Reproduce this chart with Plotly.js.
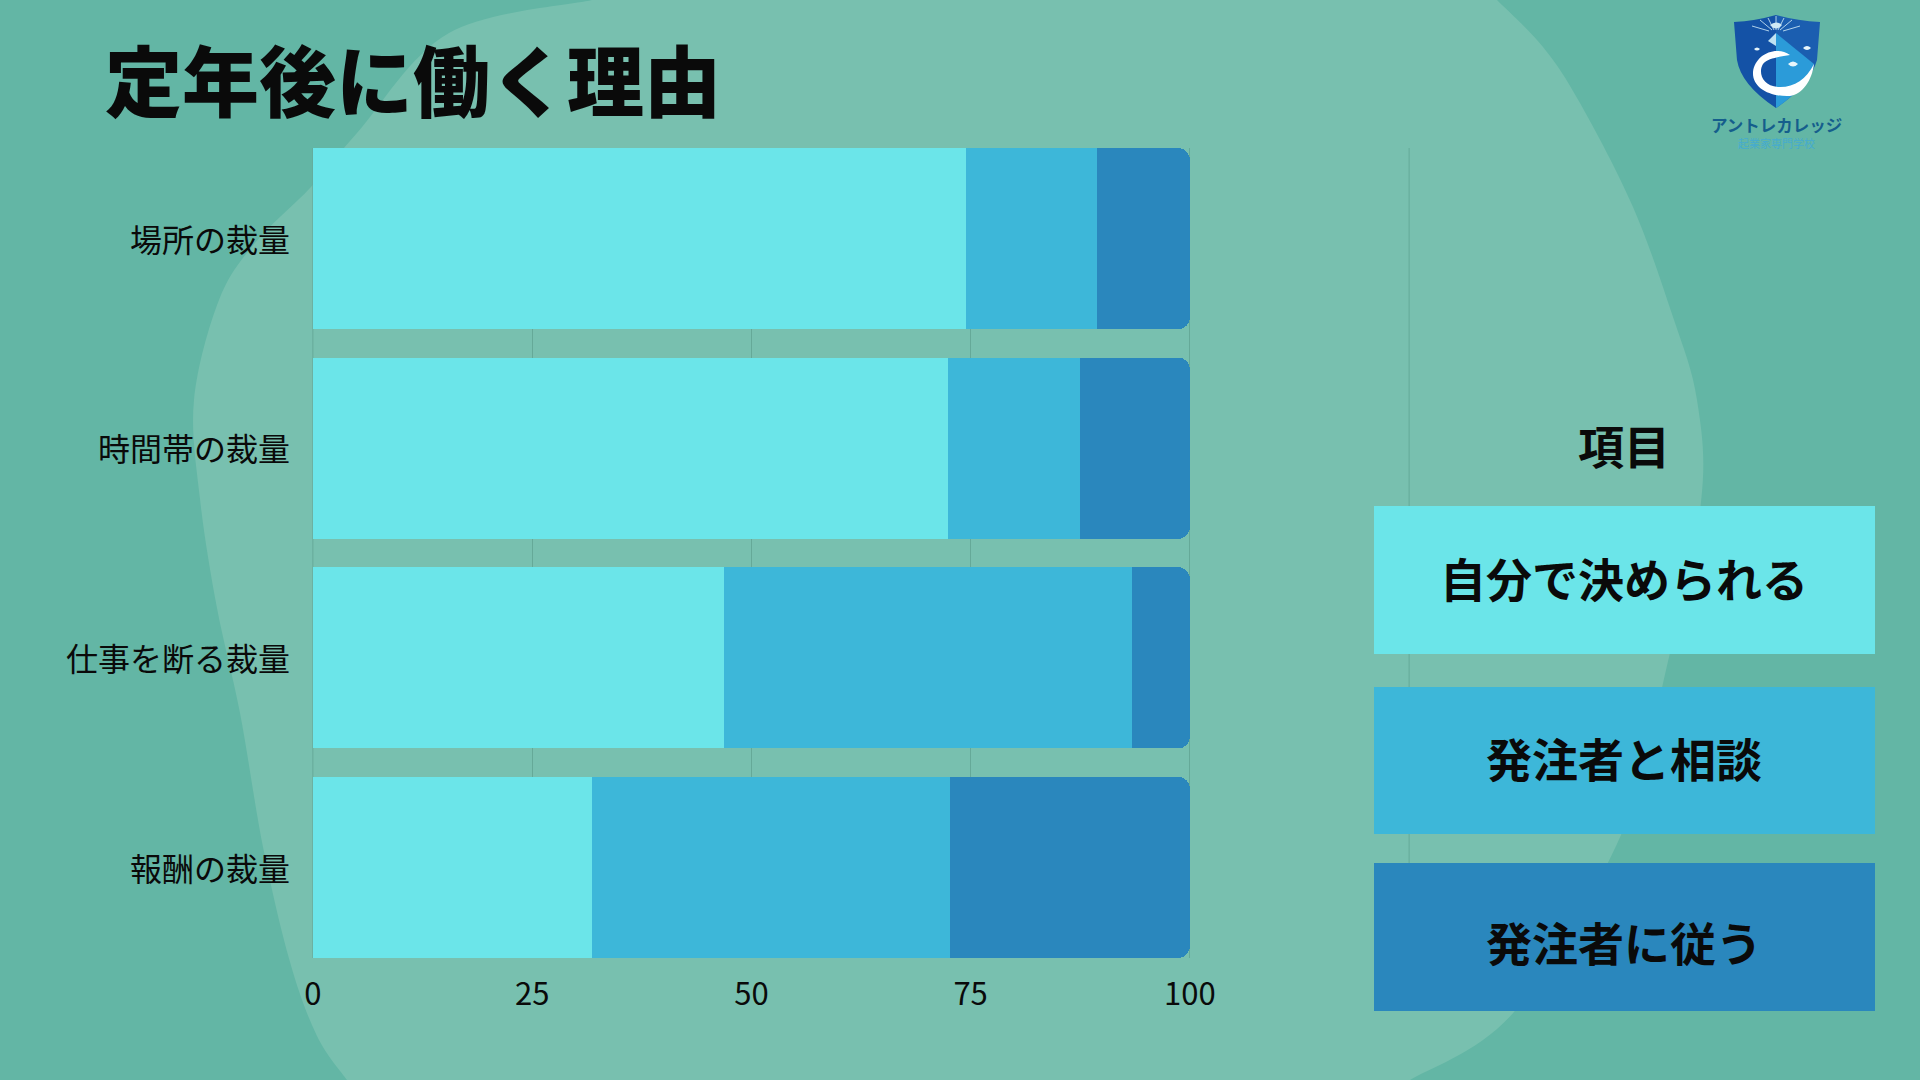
<!DOCTYPE html>
<html lang="ja">
<head>
<meta charset="utf-8">
<title>定年後に働く理由</title>
<script src="https://cdn.plot.ly/plotly-3.0.1.min.js"></script>
<style>html,body{margin:0;padding:0;overflow:hidden;background:#63B6A5}#chart{width:1920px;height:1080px}</style>
</head>
<body>
<div id="chart"></div>
<script>
// ---- data ----
const categories = ['場所の裁量', '時間帯の裁量', '仕事を断る裁量', '報酬の裁量'];
const selfDecide = [74.5, 72.4, 46.9, 31.8];
const consult    = [14.9, 15.1, 46.5, 40.9];
const follow     = [10.6, 12.5, 6.6, 27.3];
const seriesNames = ['自分で決められる', '発注者と相談', '発注者に従う'];
const tickValues = [0, 25, 50, 75, 100, 125];
const tickLabels = ['0', '25', '50', '75', '100', ' '];
const titleText = '定年後に働く理由';
const legendTitle = '項目';

// ---- style ----
const seriesColors = ['#6BE5E9', '#3DB7D9', '#2A87BD'];
const GRID = '#65A998';
const W = 1920, H = 1080;
const M = {l: 312, r: 510, t: 148, b: 122};
const FONT = '"Noto Sans CJK JP", "Noto Sans", sans-serif';
const INK = '#0A0A0A';
const px = x => (x - M.l) / (W - M.l - M.r);
const py = y => 1 - (y - M.t) / (H - M.t - M.b);

// converts a path written in page pixels into paper coordinates
function P(str) {
  let isX = true;
  return str.replace(/-?\d+(\.\d+)?/g, n => {
    const v = isX ? px(+n) : py(+n);
    isX = !isX;
    return v.toFixed(5);
  });
}
// smooth curve segments through page-pixel points (no leading move)
function curve(pts) {
  let d = '';
  for (let i = 0; i < pts.length - 1; i++) {
    const p0 = pts[Math.max(i - 1, 0)], p1 = pts[i], p2 = pts[i + 1], p3 = pts[Math.min(i + 2, pts.length - 1)];
    const c1 = [p1[0] + (p2[0] - p0[0]) / 6, p1[1] + (p2[1] - p0[1]) / 6];
    const c2 = [p2[0] - (p3[0] - p1[0]) / 6, p2[1] - (p3[1] - p1[1]) / 6];
    d += ` C ${c1[0].toFixed(1)} ${c1[1].toFixed(1)} ${c2[0].toFixed(1)} ${c2[1].toFixed(1)} ${p2[0]} ${p2[1]}`;
  }
  return d;
}
const blobLeft = [[592,0],[449,33],[357,133],[311,187],[255,243],[219,300],[194,400],[200,499],[217,608],[240,713],[263,847],[290,962],[317,1036],[347,1080]];
const blobRight = [[1410,1080],[1514,1012],[1621,835],[1666,670],[1701,502],[1697,400],[1673,317],[1633,207],[1580,103],[1543,47],[1497,0]];
const blobPath = `M ${blobLeft[0][0]} ${blobLeft[0][1]}` + curve(blobLeft) + ` L ${blobRight[0][0]} ${blobRight[0][1]}` + curve(blobRight) + ' Z';

const pathShape = (d, fill, layer) => ({type: 'path', xref: 'paper', yref: 'paper', path: P(d), fillcolor: fill, line: {width: 0}, layer: layer});
const rayShape = (x1, y1, x2, y2) => ({type: 'line', xref: 'paper', yref: 'paper', x0: px(x1), y0: py(y1), x1: px(x2), y1: py(y2), line: {color: 'rgba(215,240,250,0.8)', width: 1}, layer: 'above'});
const gridShape = v => ({type: 'line', xref: 'x', yref: 'paper', x0: v, x1: v, y0: 0, y1: 1, line: {color: GRID, width: 1}, layer: 'below'});

const legendBoxes = [[506, 654], [687, 834], [863, 1011]];
const legendTextY = [577, 757, 941];

const shapes = [
  pathShape(blobPath, '#78C0AF', 'below'),
  gridShape(tickValues[0]), gridShape(tickValues[tickValues.length - 1]),
  // legend blocks
  ...legendBoxes.map((b, i) => ({type: 'rect', xref: 'paper', yref: 'paper', x0: px(1374), x1: px(1875), y0: py(b[0]), y1: py(b[1]), fillcolor: seriesColors[i], line: {width: 0}, layer: 'above'})),
  // logo
  pathShape('M 1734 22 Q 1755 21 1776 15 L 1776 108 Q 1741 85 1737 60 Z', '#1452A6', 'above'),
  pathShape('M 1776 15 Q 1797 21 1820 22 L 1817 60 Q 1810 85 1776 108 Z', '#1B5EB0', 'above'),
  pathShape('M 1776 33 L 1814 64 Q 1806 88 1776 108 Z', '#2B9BD9', 'above'),
  pathShape('M 1776 33 L 1768 41 L 1776 46 Z', '#BFE3F2', 'above'),
  pathShape('M 1790 55 C 1775 45 1755 55 1753 72 C 1752 88 1770 97 1790 96 C 1803 94 1812 80 1814 64 C 1806 80 1793 88 1778 87 C 1762 86 1758 72 1763 64 C 1768 58 1778 57 1790 55 Z', '#FFFFFF', 'above'),
  pathShape('M 1754 49 Q 1757 46 1760 49 Q 1757 52 1754 49 Z', '#E8F6FB', 'above'),
  pathShape('M 1803 48 Q 1807 44 1811 48 Q 1807 52 1803 48 Z', '#E8F6FB', 'above'),
  pathShape('M 1788 64 Q 1793 59 1798 64 Q 1793 69 1788 64 Z', '#E8F6FB', 'above'),
  rayShape(1776, 30, 1776, 16), rayShape(1772, 30, 1760, 20), rayShape(1780, 30, 1792, 20),
  rayShape(1769, 31, 1752, 26), rayShape(1783, 31, 1800, 26),
  rayShape(1774, 30, 1768, 18), rayShape(1778, 30, 1784, 18),
  pathShape('M 1770 25 Q 1776 20 1782 25 Q 1776 32 1770 25 Z', '#CFEAF5', 'above')
];

const note = (text, x, y, size, color, weight) => ({
  text: text, xref: 'paper', yref: 'paper', x: px(x), y: py(y), xanchor: 'center', yanchor: 'middle',
  showarrow: false, font: {family: FONT, size: size, color: color, weight: weight}
});

const annotations = [
  note(legendTitle, 1624, 444, 46, INK, 700),
  ...seriesNames.map((n, i) => note(n, 1624, legendTextY[i], 46, INK, 700)),
  note('アントレカレッジ', 1776, 125, 16.5, '#155E8C', 700),
  note('起業家専門学校', 1776, 143, 11, '#45ABCF', 400)
];

const seriesValues = [selfDecide, consult, follow];
const traces = seriesValues.map((vals, i) => ({
  type: 'bar', orientation: 'h', name: seriesNames[i], y: categories, x: vals,
  marker: {color: seriesColors[i], line: {width: 0}}, hoverinfo: 'x+y+name'
}));

const barFraction = 0.865;
const layout = {
  width: W, height: H,
  paper_bgcolor: '#63B6A5', plot_bgcolor: 'rgba(0,0,0,0)',
  margin: M, showlegend: false,
  barmode: 'stack', bargap: 1 - barFraction, barcornerradius: 12,
  title: {text: titleText, xref: 'container', yref: 'container', x: 105 / W, y: 1 - 84 / H, xanchor: 'left', yanchor: 'middle',
    font: {family: FONT, size: 77, color: INK, weight: 900}},
  xaxis: {
    range: [-0.1, 125.1], tickmode: 'array', tickvals: tickValues, ticktext: tickLabels,
    showgrid: true, gridcolor: GRID, gridwidth: 1, zeroline: false, showline: false, ticks: '',
    tickfont: {family: FONT, size: 31, color: INK}, ticklabelstandoff: 15, fixedrange: true
  },
  yaxis: {
    type: 'category', categoryorder: 'array', categoryarray: categories,
    range: [categories.length - 1 + barFraction / 2, -barFraction / 2],
    showgrid: false, zeroline: false, showline: false, ticks: '',
    tickfont: {family: FONT, size: 32, color: INK}, ticklabelstandoff: 21, ticklabelshift: -2, fixedrange: true
  },
  shapes: shapes, annotations: annotations
};

Plotly.newPlot('chart', traces, layout, {displayModeBar: false, staticPlot: true});
</script>
</body>
</html>
